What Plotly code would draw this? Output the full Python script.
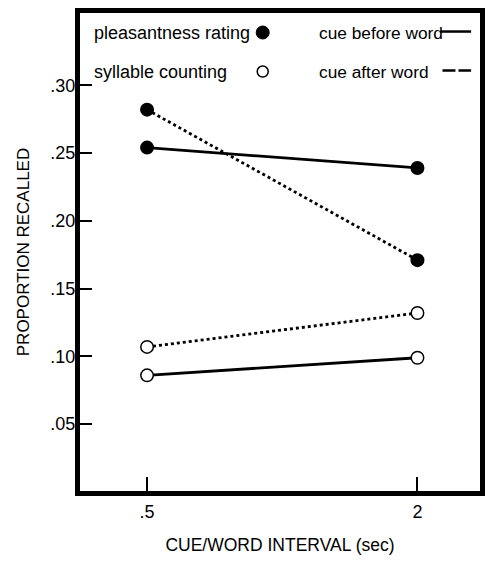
import plotly.graph_objects as go

# Data
intervals = [0.5, 2]
tick_labels_x = [".5", "2"]
pleasant_before = [0.254, 0.239]
pleasant_after = [0.282, 0.171]
syllable_before = [0.086, 0.099]
syllable_after = [0.107, 0.132]
y_ticks = [0.05, 0.10, 0.15, 0.20, 0.25, 0.30]
y_tick_labels = [".05", ".10", ".15", ".20", ".25", ".30"]

FONT = "Liberation Sans, Arial, Helvetica, sans-serif"

fig = go.Figure()

def add(y, dash, filled):
    fig.add_trace(go.Scatter(
        x=intervals, y=y, mode="lines+markers",
        line=dict(color="black", width=2.8, dash=dash),
        marker=dict(size=12.5, color="black" if filled else "white",
                    line=dict(color="black", width=1.5)),
        showlegend=False, hoverinfo="skip"))

add(pleasant_before, "solid", True)
add(pleasant_after, "dot", True)
add(syllable_before, "solid", False)
add(syllable_after, "dot", False)

W, H = 493, 562
L, R, T, B = 80, 8, 10, 62
pw, ph = W - L - R, H - T - B

def px(x):
    return (x - L) / pw

def py(y):
    return (H - B - y) / ph

annots = [
    dict(text="pleasantness rating", x=px(92), y=py(30), size=18),
    dict(text="syllable counting", x=px(92), y=py(70), size=18),
    dict(text="cue before word", x=px(320), y=py(30), size=17.3),
    dict(text="cue after word", x=px(320), y=py(70), size=17.3),
]
for a in annots:
    fig.add_annotation(xref="paper", yref="paper", xanchor="left", yanchor="middle",
                       showarrow=False, font=dict(family=FONT, size=a["size"], color="black"),
                       text=a["text"], x=a["x"], y=a["y"])

# legend marker samples
fig.add_shape(type="circle", xref="paper", yref="paper", xsizemode="pixel", ysizemode="pixel",
              xanchor=px(265), yanchor=py(30), x0=-6.5, x1=6.5, y0=-6.5, y1=6.5,
              fillcolor="black", line=dict(color="black", width=1))
fig.add_shape(type="circle", xref="paper", yref="paper", xsizemode="pixel", ysizemode="pixel",
              xanchor=px(265), yanchor=py(70), x0=-5.5, x1=5.5, y0=-5.5, y1=5.5,
              fillcolor="white", line=dict(color="black", width=1.5))
# legend line samples
fig.add_shape(type="line", xref="paper", yref="paper", x0=px(445), x1=px(476),
              y0=py(29), y1=py(29), line=dict(color="black", width=2.5))
fig.add_shape(type="line", xref="paper", yref="paper", x0=px(447), x1=px(476),
              y0=py(69), y1=py(69), line=dict(color="black", width=2.5, dash="13px,3px"))

fig.update_layout(
    width=W, height=H,
    margin=dict(l=L, r=R, t=T, b=B),
    paper_bgcolor="white", plot_bgcolor="white",
    font=dict(family=FONT, color="black"),
    xaxis=dict(range=[0.128, 2.347], tickvals=intervals, ticktext=tick_labels_x,
               ticks="inside", ticklen=14, tickwidth=2.2, tickcolor="black",
               showline=True, linewidth=5, linecolor="black", mirror=True,
               showgrid=False, zeroline=False,
               tickfont=dict(size=18, family=FONT),
               title=dict(text="CUE/WORD INTERVAL (sec)", font=dict(size=17.5, family=FONT), standoff=20)),
    yaxis=dict(range=[0.0007, 0.3533], tickvals=y_ticks, ticktext=y_tick_labels,
               ticks="inside", ticklen=12, tickwidth=2.2, tickcolor="black",
               ticklabelstandoff=-4,
               showline=True, linewidth=5, linecolor="black", mirror=True,
               showgrid=False, zeroline=False,
               tickfont=dict(size=18, family=FONT),
               title=dict(text="PROPORTION RECALLED", font=dict(size=17, family=FONT), standoff=18)),
)

fig.write_html("out.html", config={"displayModeBar": False},
               post_script="document.body.style.margin='0px';document.body.style.overflow='hidden';")
